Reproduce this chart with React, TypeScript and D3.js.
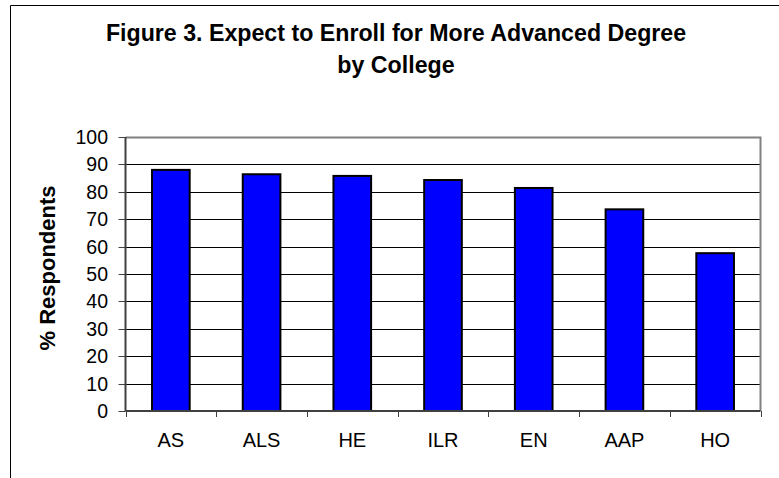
import React from "react";
import * as d3 from "d3";

const categories = ["AS", "ALS", "HE", "ILR", "EN", "AAP", "HO"];
const values = [88.0, 86.4, 85.8, 84.3, 81.4, 73.6, 57.6];
const yTicks = [0, 10, 20, 30, 40, 50, 60, 70, 80, 90, 100];
const titleLines = ["Figure 3. Expect to Enroll for More Advanced Degree", "by College"];
const yLabel = "% Respondents";

const W = 779, H = 478;
const left = 125.5, right = 760.5, top = 137, bottom = 411;

export default function App() {
  const x = d3.scaleBand<string>().domain(categories).range([left, right]).paddingInner(0.585).paddingOuter(0.2925);
  const xb = d3.scaleBand<string>().domain(categories).range([left, right]);
  const y = d3.scaleLinear().domain([0, 100]).range([bottom, top]);
  const font = "Arial, 'Liberation Sans', Helvetica, sans-serif";
  return (
    <svg width={W} height={H} style={{ position: "absolute", left: 0, top: 0 }} fontFamily={font}>
      <rect x={0} y={0} width={W} height={H} fill="#fff" />
      <path d={`M10.5,${H + 5} V5.5 H${W + 5}`} fill="none" stroke="#000" strokeWidth={1} />
      {titleLines.map((t, i) => (
        <text key={i} x={396} y={41 + i * 32} textAnchor="middle" fontWeight="bold" fontSize={23.2} fill="#000">{t}</text>
      ))}
      {yTicks.filter(t => t > 0 && t < 100).map(t => (
        <line key={t} x1={left} x2={right} y1={Math.round(y(t)) + 0.5} y2={Math.round(y(t)) + 0.5} stroke="#000" strokeWidth={1} />
      ))}
      <path d={`M${left},${Math.round(y(100)) + 0.5} H${right} V${bottom}`} fill="none" stroke="#808080" strokeWidth={2} />
      {categories.map((c, i) => (
        <rect key={c} x={x(c)!} y={y(values[i])} width={x.bandwidth()} height={bottom - y(values[i])} fill="#0000ff" stroke="#000" strokeWidth={2} />
      ))}
      <line x1={left} x2={left} y1={top} y2={bottom} stroke="#404040" strokeWidth={2} />
      <line x1={left} x2={right} y1={bottom} y2={bottom} stroke="#404040" strokeWidth={2} />
      {yTicks.map(t => (
        <g key={t}>
          <line x1={left - 7} x2={left} y1={Math.round(y(t)) + 0.5} y2={Math.round(y(t)) + 0.5} stroke="#404040" strokeWidth={1} />
          <text x={108} y={y(t) + 7} textAnchor="end" fontSize={19.5} fill="#000">{t}</text>
        </g>
      ))}
      {[...categories.map(c => xb(c)!), right].map((px, i) => (
        <line key={i} x1={Math.round(px) + 0.5} x2={Math.round(px) + 0.5} y1={bottom} y2={bottom + 6} stroke="#404040" strokeWidth={1} />
      ))}
      {categories.map(c => (
        <text key={c} x={xb(c)! + xb.bandwidth() / 2} y={447} textAnchor="middle" fontSize={20} fill="#000">{c}</text>
      ))}
      <text transform={`translate(55,268) rotate(-90)`} textAnchor="middle" fontWeight="bold" fontSize={22} fill="#000">{yLabel}</text>
    </svg>
  );
}
